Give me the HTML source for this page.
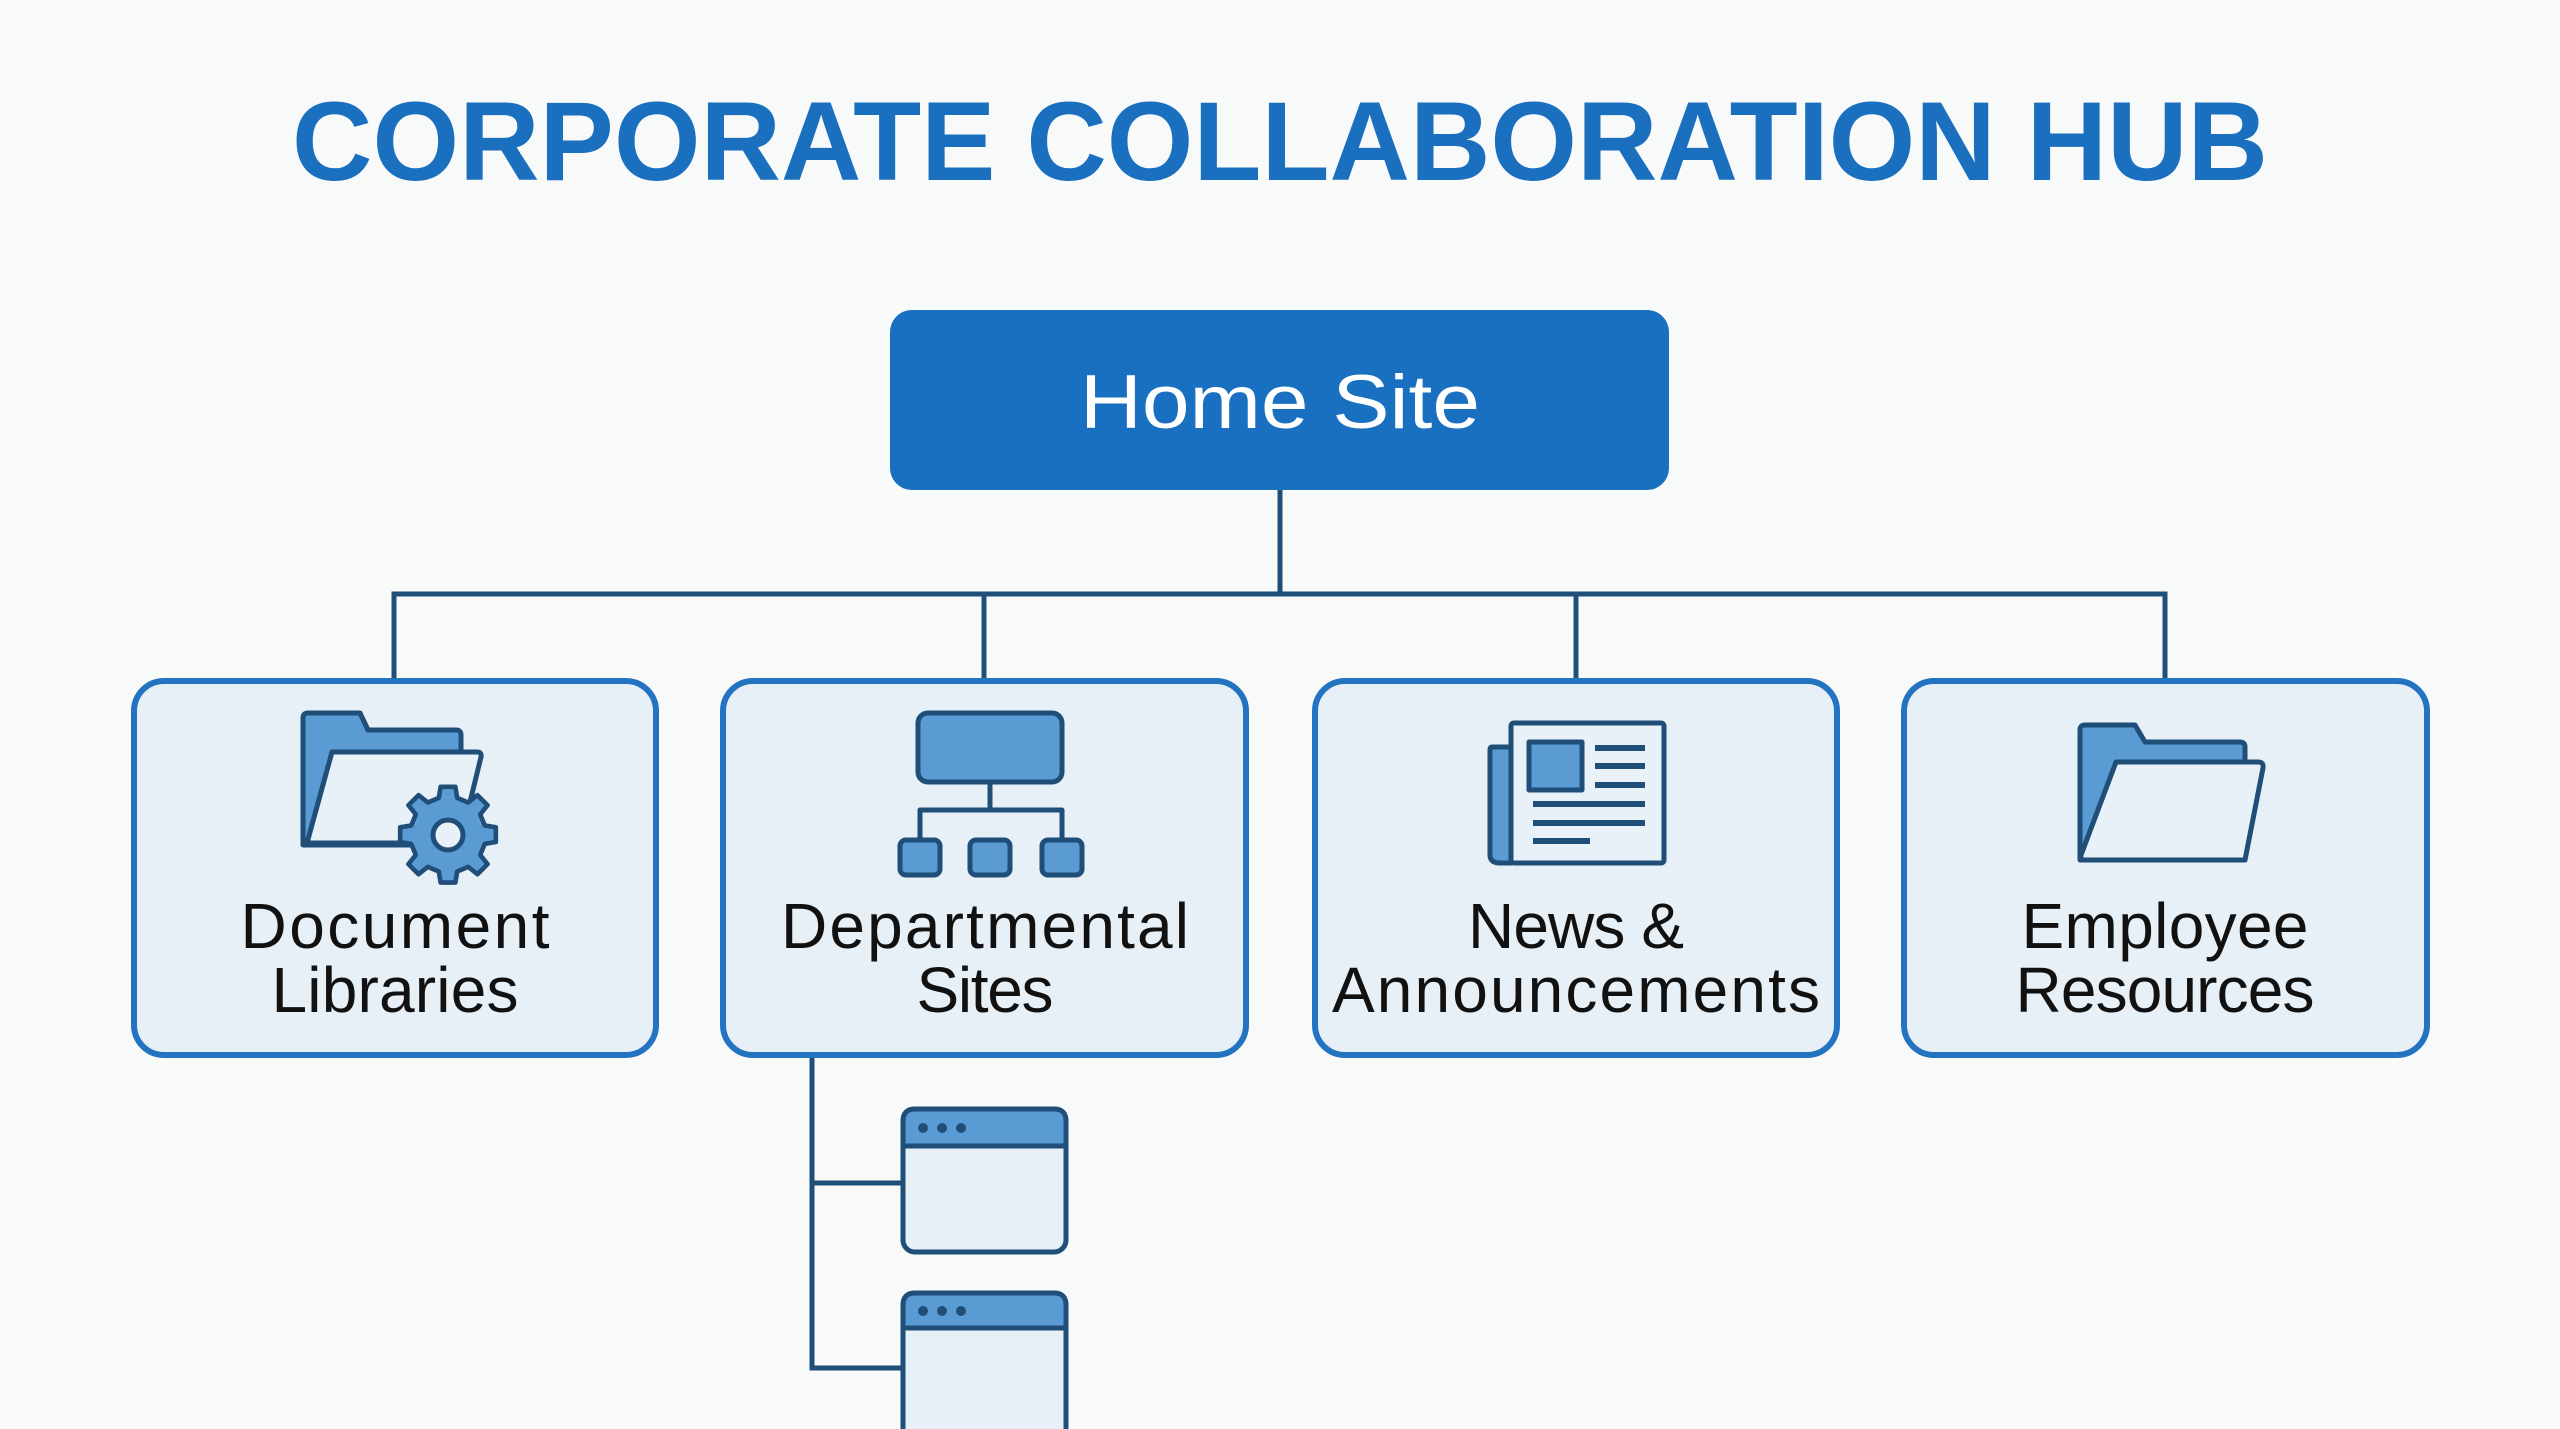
<!DOCTYPE html>
<html><head><meta charset="utf-8"><style>html,body{margin:0;padding:0;background:#f8f9f9}svg{display:block}</style></head>
<body>
<svg width="2560" height="1429" viewBox="0 0 2560 1429" xmlns="http://www.w3.org/2000/svg" font-family="Liberation Sans, sans-serif">
<rect width="2560" height="1429" fill="#f8f9f9"/>
<text x="1280" y="180" text-anchor="middle" font-size="112" font-weight="bold" fill="#1b6fbf" textLength="1976" lengthAdjust="spacingAndGlyphs">CORPORATE COLLABORATION HUB</text>
<rect x="890" y="310" width="779" height="180" rx="22" fill="#1a70c0"/>
<text x="1280" y="428" text-anchor="middle" font-size="76" fill="#fff" textLength="400" lengthAdjust="spacingAndGlyphs">Home Site</text>
<g stroke="#1f4e79" stroke-width="5" fill="none">
<path d="M1280 490V594M394 681V594H2165V681M984 594V681M1576 594V681"/>
<path d="M812 1055V1368H903M812 1183H903"/>
</g>
<g fill="#e7eff7" stroke="#2373c0" stroke-width="6">
<rect x="134" y="681" width="522" height="374" rx="30"/>
<rect x="723" y="681" width="523" height="374" rx="30"/>
<rect x="1315" y="681" width="522" height="374" rx="30"/>
<rect x="1904" y="681" width="523" height="374" rx="30"/>
</g>
<g font-size="64" fill="#111" text-anchor="middle" lengthAdjust="spacingAndGlyphs">
<text x="395" y="948" textLength="309">Document</text>
<text x="395" y="1012" textLength="247">Libraries</text>
<text x="985" y="948" textLength="408">Departmental</text>
<text x="985" y="1012" textLength="137">Sites</text>
<text x="1576" y="948" textLength="216">News &amp;</text>
<text x="1576" y="1012" textLength="488">Announcements</text>
<text x="2165" y="948" textLength="287">Employee</text>
<text x="2165" y="1012" textLength="299">Resources</text>
</g>
<g stroke="#1f4e79" stroke-width="5" stroke-linejoin="round">
<path d="M303 718Q303 713 308 713H360L368 730H456Q461 730 461 735V845H303Z" fill="#5b9bd3"/>
<path d="M332 752H477Q482 752 481 757L460 843H307Z" fill="#e9f1f8"/>
<g transform="translate(448,835)">
<path d="M-8 -48H8L10 -36L22 -31L32 -39L43 -28L35 -18L40 -6L52 -4V12L40 14L35 26L43 36L32 47L22 39L10 44L8 56H-8L-10 44L-22 39L-32 47L-43 36L-35 26L-40 14L-52 12V-4L-40 -6L-35 -18L-43 -28L-32 -39L-22 -31L-10 -36Z" fill="#5b9bd3" transform="translate(0,-4) scale(0.92)"/>
<circle r="15" fill="#e9f1f8"/>
</g>
<rect x="918" y="713" width="144" height="69" rx="10" fill="#5b9bd3"/>
<path d="M990 782V810M920 840V810H1062V840" fill="none"/>
<rect x="900" y="840" width="40" height="35" rx="6" fill="#5b9bd3"/>
<rect x="970" y="840" width="40" height="35" rx="6" fill="#5b9bd3"/>
<rect x="1042" y="840" width="40" height="35" rx="6" fill="#5b9bd3"/>
<path d="M1511 747H1492Q1490 747 1490 750V855Q1490 863 1500 863H1511Z" fill="#5b9bd3"/>
<rect x="1511" y="723" width="153" height="140" rx="3" fill="#e9f1f8"/>
<rect x="1529" y="742" width="53" height="48" fill="#5b9bd3"/>
<path d="M1595 748H1645M1595 766H1645M1595 785H1645M1533 804H1645M1533 823H1645M1533 841H1590" stroke-width="6" fill="none"/>
<path d="M2080 730Q2080 725 2085 725H2135L2145 742H2240Q2245 742 2245 747V860H2080Z" fill="#5b9bd3"/>
<path d="M2116 762H2258Q2264 762 2263 768L2245 860H2085Q2080 860 2081 855Z" fill="#e9f1f8"/>
</g>
<g stroke="#1f4e79" stroke-width="5">
<rect x="903" y="1109" width="163" height="143" rx="12" fill="#e7eff7"/>
<path d="M915 1109H1054Q1066 1109 1066 1121V1146H903V1121Q903 1109 915 1109Z" fill="#5b9bd3"/>
<rect x="903" y="1293" width="163" height="160" rx="12" fill="#e7eff7"/>
<path d="M915 1293H1054Q1066 1293 1066 1305V1328H903V1305Q903 1293 915 1293Z" fill="#5b9bd3"/>
</g>
<g fill="#1f4e79">
<circle cx="923" cy="1128" r="5"/><circle cx="942" cy="1128" r="5"/><circle cx="961" cy="1128" r="5"/>
<circle cx="923" cy="1311" r="5"/><circle cx="942" cy="1311" r="5"/><circle cx="961" cy="1311" r="5"/>
</g>
</svg>
</body></html>
